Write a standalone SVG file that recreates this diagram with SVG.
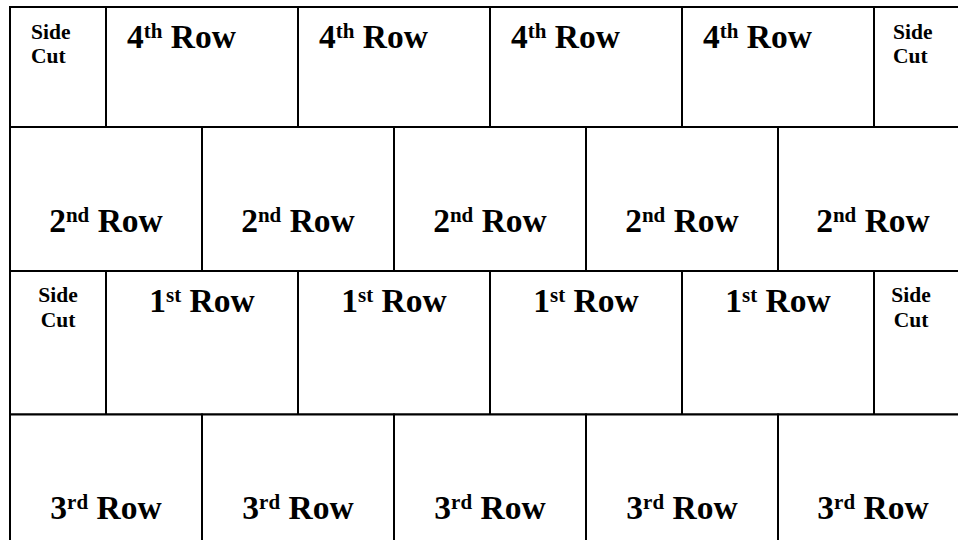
<svg xmlns="http://www.w3.org/2000/svg" width="958" height="540" viewBox="0 0 958 540">
<style>
.cell{fill:#ffffff;stroke:#000000;stroke-width:2}
.t{font-family:"Liberation Serif","Times New Roman",serif;font-weight:bold;font-size:33.5px;fill:#000000}
.s{font-family:"Liberation Serif","Times New Roman",serif;font-weight:bold;font-size:21.5px;fill:#000000}
.sup{font-size:21px}
.m{text-anchor:middle}
</style>
<rect width="958" height="540" fill="#ffffff"/>
<g id="row4">
<g id="r4-side-left"><rect class="cell" x="10" y="7" width="96" height="120"/><text class="s" x="31" y="39">Side</text><text class="s" x="31" y="63">Cut</text></g>
<g id="r4-a"><rect class="cell" x="106" y="7" width="192" height="120"/><text class="t" x="127" y="48">4<tspan class="sup" dy="-10">th</tspan><tspan dy="10"> Row</tspan></text></g>
<g id="r4-b"><rect class="cell" x="298" y="7" width="192" height="120"/><text class="t" x="319" y="48">4<tspan class="sup" dy="-10">th</tspan><tspan dy="10"> Row</tspan></text></g>
<g id="r4-c"><rect class="cell" x="490" y="7" width="192" height="120"/><text class="t" x="511" y="48">4<tspan class="sup" dy="-10">th</tspan><tspan dy="10"> Row</tspan></text></g>
<g id="r4-d"><rect class="cell" x="682" y="7" width="192" height="120"/><text class="t" x="703" y="48">4<tspan class="sup" dy="-10">th</tspan><tspan dy="10"> Row</tspan></text></g>
<g id="r4-side-right"><rect class="cell" x="874" y="7" width="100" height="120"/><text class="s" x="893" y="39">Side</text><text class="s" x="893" y="63">Cut</text></g>
</g>
<g id="row2">
<g id="r2-a"><rect class="cell" x="10" y="127" width="192" height="144"/><text class="t m" x="106" y="232">2<tspan class="sup" dy="-10">nd</tspan><tspan dy="10"> Row</tspan></text></g>
<g id="r2-b"><rect class="cell" x="202" y="127" width="192" height="144"/><text class="t m" x="298" y="232">2<tspan class="sup" dy="-10">nd</tspan><tspan dy="10"> Row</tspan></text></g>
<g id="r2-c"><rect class="cell" x="394" y="127" width="192" height="144"/><text class="t m" x="490" y="232">2<tspan class="sup" dy="-10">nd</tspan><tspan dy="10"> Row</tspan></text></g>
<g id="r2-d"><rect class="cell" x="586" y="127" width="192" height="144"/><text class="t m" x="682" y="232">2<tspan class="sup" dy="-10">nd</tspan><tspan dy="10"> Row</tspan></text></g>
<g id="r2-e"><rect class="cell" x="778" y="127" width="192" height="144"/><text class="t m" x="873" y="232">2<tspan class="sup" dy="-10">nd</tspan><tspan dy="10"> Row</tspan></text></g>
</g>
<g id="row1">
<g id="r1-side-left"><rect class="cell" x="10" y="271" width="96" height="143.5"/><text class="s m" x="58" y="302">Side</text><text class="s m" x="58" y="327">Cut</text></g>
<g id="r1-a"><rect class="cell" x="106" y="271" width="192" height="143.5"/><text class="t m" x="202" y="312">1<tspan class="sup" dy="-10">st</tspan><tspan dy="10"> Row</tspan></text></g>
<g id="r1-b"><rect class="cell" x="298" y="271" width="192" height="143.5"/><text class="t m" x="394" y="312">1<tspan class="sup" dy="-10">st</tspan><tspan dy="10"> Row</tspan></text></g>
<g id="r1-c"><rect class="cell" x="490" y="271" width="192" height="143.5"/><text class="t m" x="586" y="312">1<tspan class="sup" dy="-10">st</tspan><tspan dy="10"> Row</tspan></text></g>
<g id="r1-d"><rect class="cell" x="682" y="271" width="192" height="143.5"/><text class="t m" x="778" y="312">1<tspan class="sup" dy="-10">st</tspan><tspan dy="10"> Row</tspan></text></g>
<g id="r1-side-right"><rect class="cell" x="874" y="271" width="100" height="143.5"/><text class="s m" x="911" y="302">Side</text><text class="s m" x="911" y="327">Cut</text></g>
</g>
<g id="row3">
<g id="r3-a"><rect class="cell" x="10" y="414.5" width="192" height="160"/><text class="t m" x="106" y="519">3<tspan class="sup" dy="-10">rd</tspan><tspan dy="10"> Row</tspan></text></g>
<g id="r3-b"><rect class="cell" x="202" y="414.5" width="192" height="160"/><text class="t m" x="298" y="519">3<tspan class="sup" dy="-10">rd</tspan><tspan dy="10"> Row</tspan></text></g>
<g id="r3-c"><rect class="cell" x="394" y="414.5" width="192" height="160"/><text class="t m" x="490" y="519">3<tspan class="sup" dy="-10">rd</tspan><tspan dy="10"> Row</tspan></text></g>
<g id="r3-d"><rect class="cell" x="586" y="414.5" width="192" height="160"/><text class="t m" x="682" y="519">3<tspan class="sup" dy="-10">rd</tspan><tspan dy="10"> Row</tspan></text></g>
<g id="r3-e"><rect class="cell" x="778" y="414.5" width="192" height="160"/><text class="t m" x="873" y="519">3<tspan class="sup" dy="-10">rd</tspan><tspan dy="10"> Row</tspan></text></g>
</g>
<g id="connectors"></g>
</svg>
